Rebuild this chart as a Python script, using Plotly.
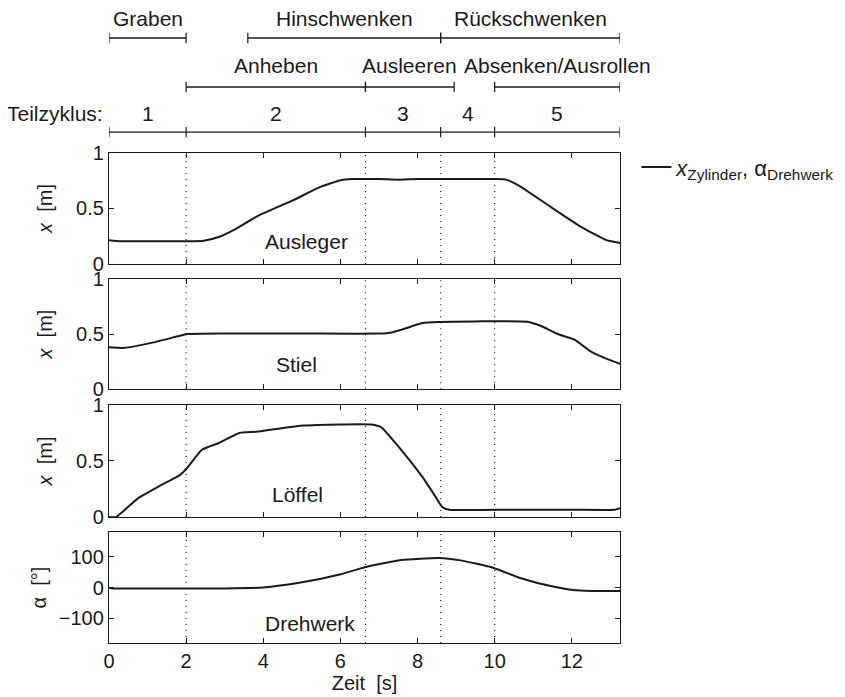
import plotly.graph_objects as go
from plotly.subplots import make_subplots

# ---------------- data ----------------
t_ausleger = [0, 0.3, 1.0, 2.0, 2.46, 2.9, 3.2, 3.9, 4.78, 5.48, 6.01, 6.3, 7.0, 7.5, 8.0, 9.0, 10.0, 10.3, 10.66, 11.45, 12.24, 12.9, 13.25]
x_ausleger = [0.215, 0.205, 0.205, 0.205, 0.21, 0.25, 0.30, 0.44, 0.575, 0.695, 0.755, 0.765, 0.765, 0.76, 0.765, 0.765, 0.765, 0.76, 0.70, 0.515, 0.335, 0.215, 0.19]

t_stiel = [0, 0.4, 1.1, 1.89, 2.02, 3.0, 5.0, 7.0, 7.33, 7.68, 8.12, 8.56, 9.5, 10.84, 11.19, 11.63, 12.07, 12.5, 12.94, 13.25]
x_stiel = [0.38, 0.375, 0.42, 0.49, 0.5, 0.505, 0.505, 0.505, 0.515, 0.55, 0.6, 0.61, 0.615, 0.612, 0.575, 0.5, 0.45, 0.34, 0.27, 0.23]

t_loeffel = [0, 0.18, 0.75, 1.36, 1.84, 2.02, 2.41, 2.85, 3.38, 3.82, 4.43, 5.05, 6.0, 6.8, 7.06, 7.5, 8.12, 8.47, 8.64, 8.82, 10.0, 12.0, 13.1, 13.25]
x_loeffel = [0.0, 0.0, 0.167, 0.286, 0.375, 0.435, 0.6, 0.66, 0.75, 0.76, 0.79, 0.815, 0.825, 0.825, 0.80, 0.63, 0.36, 0.18, 0.09, 0.065, 0.065, 0.065, 0.065, 0.08]

t_dreh = [0, 0.1, 1, 2, 3, 3.99, 4.97, 6.01, 6.61, 7.57, 8.55, 9.12, 9.96, 10.68, 11.51, 12.03, 12.5, 13.25]
a_dreh = [-1, -3, -3, -3, -3, 0, 16, 43, 65, 89, 96, 88, 64, 30, 3, -8, -11, -11]

panel_names = ["Ausleger", "Stiel", "Löffel", "Drehwerk"]

# phase boundaries (Teilzyklus) and labels
cycle_bounds = [0, 2, 6.65, 8.6, 10, 13.25]
cycle_labels = ["1", "2", "3", "4", "5"]

# middle row of brackets
mid_segments = [("Anheben", 2, 6.65), ("Ausleeren", 6.65, 8.95), ("Absenken/Ausrollen", 10, 13.25)]
# top row of brackets
top_segments = [("Graben", 0, 2), ("Hinschwenken", 3.6, 8.6), ("Rückschwenken", 8.6, 13.25)]

x_ticks = [0, 2, 4, 6, 8, 10, 12]

# ---------------- figure ----------------
FONT = "Liberation Sans, Arial, Helvetica, sans-serif"
INK = "#1a1a1a"
TS = 20   # tick label size
AS = 21   # annotation size
fig = make_subplots(rows=4, cols=1, shared_xaxes=True)

series = [(t_ausleger, x_ausleger), (t_stiel, x_stiel), (t_loeffel, x_loeffel), (t_dreh, a_dreh)]
legend_name = "<i>x</i><sub>Zylinder</sub>, α<sub>Drehwerk</sub>"
for i, (tt, vv) in enumerate(series):
    fig.add_trace(go.Scatter(x=tt, y=vv, mode="lines",
                             line=dict(color=INK, width=2, shape="spline", smoothing=0.5),
                             name=legend_name, showlegend=(i == 0), hoverinfo="skip"),
                  row=i + 1, col=1)

domains = [[0.7735, 1.0], [0.518, 0.743], [0.257, 0.486], [0.0, 0.2265]]
for i in range(4):
    ax = "yaxis" if i == 0 else f"yaxis{i+1}"
    xa = "xaxis" if i == 0 else f"xaxis{i+1}"
    if i < 3:
        yopts = dict(range=[0, 1], tickvals=[0, 0.5, 1], ticktext=["0", "0.5", "1"],
                     title=dict(text="<i>x</i>\u00a0\u00a0[m]", standoff=18,
                                font=dict(size=TS, color=INK, family=FONT)))
    else:
        yopts = dict(range=[-180, 180], tickvals=[-100, 0, 100], ticktext=["\u2212100", "0", "100"],
                     title=dict(text="α\u00a0\u00a0[°]", standoff=6,
                                font=dict(size=TS, color=INK, family=FONT)))
    fig.layout[ax].update(domain=domains[i], showgrid=False, zeroline=False, automargin=False,
                          showline=True, linecolor=INK, linewidth=1.3, mirror="allticks",
                          ticks="inside", ticklen=5, tickcolor=INK,
                          tickfont=dict(size=TS, color=INK, family=FONT), **yopts)
    fig.layout[xa].update(range=[0, 13.25], tickvals=x_ticks, showgrid=False, zeroline=False,
                          automargin=False,
                          showline=True, linecolor=INK, linewidth=1.3, mirror="allticks",
                          ticks="inside", ticklen=5, tickcolor=INK,
                          showticklabels=(i == 3),
                          tickfont=dict(size=TS, color=INK, family=FONT))
fig.layout["xaxis4"].title = dict(text="Zeit\u00a0\u00a0[s]", standoff=0,
                                  font=dict(size=TS, color=INK, family=FONT))

# dotted phase boundaries inside panels
for r in range(1, 5):
    yref = "y domain" if r == 1 else f"y{r} domain"
    xref = "x" if r == 1 else f"x{r}"
    for b in cycle_bounds[1:-1]:
        fig.add_shape(type="line", x0=b, x1=b, y0=0, y1=1, xref=xref, yref=yref,
                      line=dict(color=INK, width=1.2, dash="1px,5px"))

# panel name labels
label_pos = [(5.13, 0.2), (4.87, 0.22), (4.9, 0.2), (5.2, -118)]
for r, (name, (lx, ly)) in enumerate(zip(panel_names, label_pos), start=1):
    fig.add_annotation(x=lx, y=ly, xref="x" if r == 1 else f"x{r}", yref="y" if r == 1 else f"y{r}",
                       text=name, showarrow=False, xanchor="center", yanchor="middle",
                       font=dict(size=AS, color=INK, family=FONT))

# bracket rows above the plot
def bracket(bounds, ybar, tick=0.0105):
    for b0, b1 in zip(bounds[:-1], bounds[1:]):
        fig.add_shape(type="line", x0=b0, x1=b1, y0=ybar, y1=ybar, xref="x", yref="paper",
                      line=dict(color=INK, width=1.3))
    for b in bounds:
        fig.add_shape(type="line", x0=b, x1=b, y0=ybar - tick, y1=ybar + tick, xref="x", yref="paper",
                      line=dict(color=INK, width=1.2))

# Teilzyklus row
y_cycle_bar, y_cycle_txt = 1.0428, 1.0816
bracket(cycle_bounds, y_cycle_bar)
for lab, b0, b1 in zip(cycle_labels, cycle_bounds[:-1], cycle_bounds[1:]):
    fig.add_annotation(x=(b0 + b1) / 2, y=y_cycle_txt, xref="x", yref="paper", text=lab,
                       showarrow=False, xanchor="center", yanchor="middle",
                       font=dict(size=AS, color=INK, family=FONT))
fig.add_annotation(x=-0.008, y=y_cycle_txt, xref="paper", yref="paper", text="Teilzyklus:",
                   showarrow=False, xanchor="right", yanchor="middle",
                   font=dict(size=AS, color=INK, family=FONT))

for segs, ybar, ytxt in [(mid_segments, 1.1347, 1.1776), (top_segments, 1.2347, 1.2735)]:
    for name, s0, s1 in segs:
        bracket([s0, s1], ybar)
        fig.add_annotation(x=(s0 + s1) / 2, y=ytxt, xref="x", yref="paper", text=name,
                           showarrow=False, xanchor="center", yanchor="middle",
                           font=dict(size=AS, color=INK, family=FONT))

# page body has an 8px margin: figure is sized/placed to fit the 845x697 window
fig.update_layout(
    width=837, height=689,
    margin=dict(l=101, r=225, t=145, b=54, autoexpand=False),
    paper_bgcolor="white", plot_bgcolor="white",
    font=dict(family=FONT, size=TS, color=INK),
    legend=dict(x=1.032, y=1.014, xanchor="left", yanchor="top", xref="paper", yref="paper",
                bgcolor="rgba(0,0,0,0)", itemwidth=30,
                font=dict(size=22, color=INK, family=FONT)),
)

fig.write_html("out.html")
